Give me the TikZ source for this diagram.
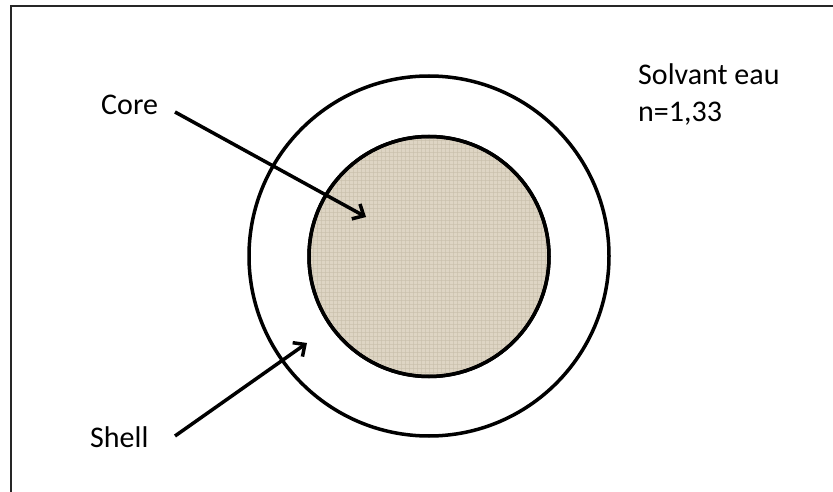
\documentclass[tikz,border=0pt]{standalone}
\usepackage{fontspec}
\setmainfont{Carlito}
\usetikzlibrary{arrows.meta}
\definecolor{corefill}{RGB}{222,213,196}
\definecolor{coregrid}{RGB}{200,190,170}
\begin{document}
\begin{tikzpicture}[x=1pt,y=-1pt,
  ring/.style={circle,draw=black,line width=3.5pt,inner sep=0pt},
  pointer/.style={line width=3.5pt,-{Straight Barb[length=9pt,width=17pt,line width=3.5pt]}},
  label/.style={inner sep=0pt,anchor=base west,font=\fontsize{30}{37}\selectfont}]
\useasboundingbox (0,0) rectangle (833,492);
\fill[white] (0,0) rectangle (833,492);
\draw[line width=2pt,black!85] (11,492) -- (11,6.5) -- (833,6.5);
% shell and core
\node[ring,minimum size=360pt] (shell) at (429,256) {};
\node[ring,minimum size=240pt,fill=corefill] (core) at (429,256.5) {};
\begin{scope}
  \clip (429,256.5) circle (118pt);
  \foreach \i in {0,4,...,240} {
    \draw[coregrid,line width=0.6pt,opacity=0.6] (309+\i,136) -- (309+\i,377);
    \draw[coregrid,line width=0.6pt,opacity=0.6] (309,136+\i) -- (549,136+\i);
  }
\end{scope}
\draw[line width=3.5pt] (core.center) circle (120pt);
% labels
\node[label] (corelbl) at (101,115) {Core};
\node[label] (shelllbl) at (90,447) {Shell};
\node[label] (solv) at (638,85) {Solvant eau};
\node[label] (nval) at (638,122) {n=1,33};
% pointers
\coordinate (cstart) at (175,112);
\coordinate (ctip) at (366,217);
\coordinate (sstart) at (175,436);
\coordinate (stip) at (307,343);
\draw[pointer] (cstart) -- (ctip);
\draw[pointer] (sstart) -- (stip);
\end{tikzpicture}
\end{document}
